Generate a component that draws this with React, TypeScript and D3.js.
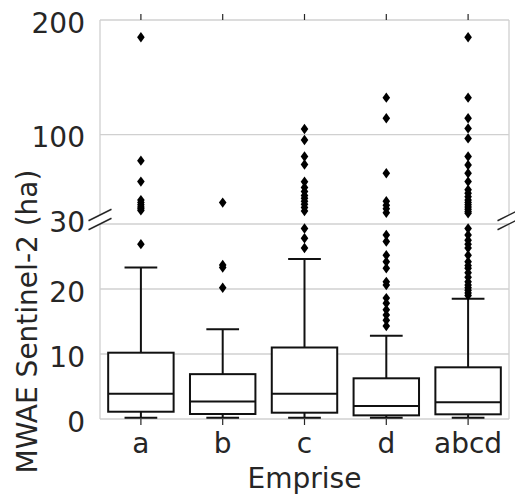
import React from "react";
import * as d3 from "d3";

const categories = ["a", "b", "c", "d", "abcd"];
const q1Values = [1.12, 0.77, 0.97, 0.56, 0.72];
const medianValues = [3.9, 2.7, 3.9, 2.0, 2.56];
const q3Values = [10.2, 6.9, 11.0, 6.26, 7.95];
const whiskerLowValues = [0.2, 0.2, 0.2, 0.2, 0.2];
const whiskerHighValues = [23.3, 13.8, 24.6, 12.8, 18.5];

const outliersA = [185, 77.4, 59.1, 43, 41, 39, 37, 35.5, 34, 26.9];
const outliersB = [40.8, 23.7, 23.3, 20.2];
const outliersC = [105, 95.4, 81, 74, 59, 54, 50.4, 47, 44.6, 42, 39.4, 36.5, 33.5, 29.3, 27.8, 26.3];
const outliersD = [132.3, 114.3, 66.4, 42, 38.5, 35.5, 32, 28.3, 27.3, 25.2, 24.2, 23.2, 21.1, 20.6, 18.6, 17.8, 16.8, 16.0, 15.2, 14.3];
const outliersABCD = [
  185, 132.3, 114.3, 105.5, 96.8, 81, 73.6, 66.4, 59.1, 52, 49, 46, 43, 41, 39, 37, 35, 33, 31.5,
  29.3, 28.3, 27.5, 26.9, 26.3, 25.2, 24.2, 23.6, 23.2, 22.5, 21.8, 21.1, 20.6, 20.2, 19.8, 19.4, 19.0,
];
const outlierLists = [outliersA, outliersB, outliersC, outliersD, outliersABCD];

const upperTicks = [100, 200];
const lowerTicks = [0, 10, 20];
const breakValue = 30;
const upperMax = 200;

const xLabel = "Emprise";
const yLabel = "MWAE Sentinel-2 (ha)";

const W = 515;
const H = 497;
const left = 100;
const right = 509;
const upperTop = 20;
const upperBottom = 215;
const lowerTop = 224;
const lowerBottom = 419;

const textColor = "#262626";
const gridColor = "#d0d0d0";
const boxColor = "#111";
const font = "DejaVu Sans, sans-serif";
const fs = 28;
const sw = 2;

export default function App() {
  const x = d3.scaleBand<string>().domain(categories).range([left, right]).padding(0);
  const yUp = d3.scaleLinear().domain([breakValue, upperMax]).range([upperBottom, upperTop]);
  const yLo = d3.scaleLinear().domain([0, breakValue]).range([lowerBottom, lowerTop]);
  const bw = x.bandwidth() * 0.8;
  const capW = bw * 0.5;
  const diamond = "M0,-5.2L3.8,0L0,5.2L-3.8,0Z";

  const breakMark = (cx: number, cy: number, key: string) => (
    <line key={key} x1={cx - 11.5} y1={cy + 5.75} x2={cx + 11.5} y2={cy - 5.75} stroke={textColor} strokeWidth={1.4} />
  );

  return (
    <svg width={W} height={H} style={{ position: "absolute", left: 0, top: 0, background: "#fff" }} fontFamily={font}>
      {upperTicks.map((t) => (
        <line key={"gu" + t} x1={left} x2={right} y1={yUp(t)} y2={yUp(t)} stroke={gridColor} strokeWidth={1.3} />
      ))}
      {[...lowerTicks, breakValue].map((t) => (
        <line key={"gl" + t} x1={left} x2={right} y1={yLo(t)} y2={yLo(t)} stroke={gridColor} strokeWidth={1.3} />
      ))}
      <line x1={left} x2={left} y1={upperTop} y2={upperBottom} stroke={gridColor} strokeWidth={1.3} />
      <line x1={right} x2={right} y1={upperTop} y2={upperBottom} stroke={gridColor} strokeWidth={1.3} />
      <line x1={left} x2={left} y1={lowerTop} y2={lowerBottom} stroke={gridColor} strokeWidth={1.3} />
      <line x1={right} x2={right} y1={lowerTop} y2={lowerBottom} stroke={gridColor} strokeWidth={1.3} />
      {categories.map((c) => {
        const cx = (x(c) as number) + x.bandwidth() / 2;
        return (
          <g key={"xt" + c}>
            <line x1={cx} x2={cx} y1={upperTop - 6} y2={upperTop} stroke={textColor} strokeWidth={1.2} />
            <line x1={cx} x2={cx} y1={lowerBottom} y2={lowerBottom + 6} stroke={textColor} strokeWidth={1.2} />
            <text x={cx} y={453} textAnchor="middle" fontSize={fs} fill={textColor}>{c}</text>
          </g>
        );
      })}
      {categories.map((c, i) => {
        const cx = (x(c) as number) + x.bandwidth() / 2;
        const outs = outlierLists[i];
        return (
          <g key={"box" + c}>
            <line x1={cx} x2={cx} y1={yLo(q3Values[i])} y2={yLo(whiskerHighValues[i])} stroke={boxColor} strokeWidth={sw} />
            <line x1={cx} x2={cx} y1={yLo(q1Values[i])} y2={yLo(whiskerLowValues[i])} stroke={boxColor} strokeWidth={sw} />
            <line x1={cx - capW / 2} x2={cx + capW / 2} y1={yLo(whiskerHighValues[i])} y2={yLo(whiskerHighValues[i])} stroke={boxColor} strokeWidth={sw} />
            <line x1={cx - capW / 2} x2={cx + capW / 2} y1={yLo(whiskerLowValues[i])} y2={yLo(whiskerLowValues[i])} stroke={boxColor} strokeWidth={sw} />
            <rect x={cx - bw / 2} width={bw} y={yLo(q3Values[i])} height={yLo(q1Values[i]) - yLo(q3Values[i])} fill="#fff" stroke={boxColor} strokeWidth={sw} />
            <line x1={cx - bw / 2} x2={cx + bw / 2} y1={yLo(medianValues[i])} y2={yLo(medianValues[i])} stroke={boxColor} strokeWidth={sw} />
            {outs.map((v, j) => (
              <path key={j} d={diamond} transform={`translate(${cx},${v > breakValue ? yUp(v) : yLo(v)})`} fill="#000" />
            ))}
          </g>
        );
      })}
      {upperTicks.map((t) => (
        <text key={"yu" + t} x={85} y={yUp(t) + 12.5} textAnchor="end" fontSize={fs} fill={textColor}>{t}</text>
      ))}
      {lowerTicks.map((t) => (
        <text key={"yl" + t} x={85} y={yLo(t) + 12.5} textAnchor="end" fontSize={fs} fill={textColor}>{t}</text>
      ))}
      <text x={85} y={(yUp(breakValue) + yLo(breakValue)) / 2 + 12} textAnchor="end" fontSize={fs} fill={textColor}>{breakValue}</text>
      {breakMark(left, upperBottom, "b1")}
      {breakMark(left, lowerTop, "b2")}
      {breakMark(right, upperBottom, "b3")}
      {breakMark(right, lowerTop, "b4")}
      <text x={(left + right) / 2} y={488} textAnchor="middle" fontSize={fs} fill={textColor}>{xLabel}</text>
      <text transform={`translate(37,${(lowerTop + lowerBottom) / 2}) rotate(-90)`} textAnchor="middle" fontSize={fs} fill={textColor}>{yLabel}</text>
    </svg>
  );
}
